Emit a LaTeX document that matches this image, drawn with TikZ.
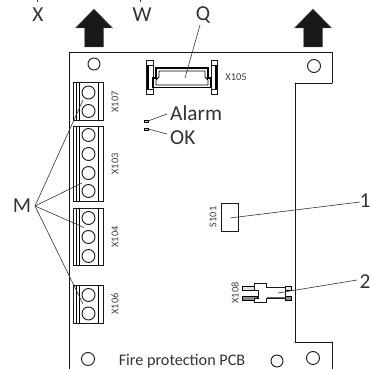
\documentclass[tikz,border=0pt]{standalone}
\usepackage{fontspec, tkz-euclide}
\setmainfont{Carlito}
\tikzset{>=stealth}
\tikzset{
  big/.style={font=\fontsize{21.3}{21.3}\selectfont,text=black!80,inner sep=0pt},
  tiny/.style={font=\fontsize{10.4}{10.4}\selectfont,text=black!75,inner sep=0pt},
  lead/.style={line width=0.6pt,black!80},
  pcb/.style={line width=0.95pt,black!90},
  upblock/.style={fill=black!90,draw=black!60,line width=0.4pt}
}

\begin{document}
\begin{tikzpicture}[x=1pt,y=-1pt]
\useasboundingbox (0,0) rectangle (370,369);
\tkzDefPoints{69.5/369/A, 69.5/52.5/B, 332/52.5/C, 332/83/D, 295/83/E, 295/342/F, 332/342/G, 332/369/H}
\tkzDrawSegments[pcb](A,B B,C C,D D,E E,F F,G G,H)
% arrows on top
\foreach \ax in {94,313}
  \draw[upblock,shift={(\ax,0)}] (0,9) -- (18.5,28) -- (9.5,28) -- (9.5,47) -- (-9.5,47) -- (-9.5,28) -- (-18.5,28) -- cycle;
% mounting holes
\foreach \hx/\hy/\hr in {94/64/6, 314/66/6.5, 88/359/6.5, 277/361/6, 313/358/6.5}
  \draw[pcb] (\hx,\hy) circle (\hr);
% terminal blocks
\foreach \tt/\tb/\tl/\tn/\holes in {82.5/120.5/102/X107/{92.5,111}, 126/201/164/X103/{135,154,173,191}, 208/265/237/X104/{218,237,256}, 285/323/304/X106/{295,313.5}}{
  \draw[pcb] (73,\tt) rectangle (103.5,\tb);
  \draw[line width=0.6pt] (76,\tt) -- (76,\tb) (79,\tt) -- (79,\tb) (98,\tt) -- (98,\tb);
  \foreach \hy in \holes
    \draw[pcb,fill=white] (88.5,\hy) circle (6.5);
  \node[tiny,rotate=90] (lab\tn) at (115,\tl) {\tn};
}
% connector X105
\draw[pcb,fill=white] (146.5,60) rectangle (153,94);
\draw[pcb,fill=white] (211,60) rectangle (217.5,94);
\draw[pcb] (146.5,65) -- (153,65) (146.5,89) -- (153,89) (211,65) -- (217.5,65) (211,89) -- (217.5,89);
\draw[line width=1.4pt] (148,65) -- (148,89) (216,65) -- (216,89);
\draw[line width=1.1pt] (153,87.5) -- (153,78) -- (156,78) -- (156,68) -- (208,68) -- (208,78) -- (211,78) -- (211,87.5) -- cycle;
\draw[line width=0.9pt] (159,71) -- (205,71) -- (205,77) -- (208,80) -- (208,85) -- (156,85) -- (156,80) -- (159,77) -- cycle;
\node[tiny] (labX105) at (236,77.5) {X105};
% leds
\draw[line width=0.5pt,fill=black!25] (144.5,120) rectangle (148,122.5);
\draw[line width=0.5pt,fill=black!25] (144.5,128) rectangle (148,130.5);
\coordinate (ledA) at (148,121);
\coordinate (ledO) at (148,129);
% switch and header
\draw[pcb] (221.5,203) rectangle (238.5,231);
\node[tiny,rotate=90] (labS101) at (213,217) {S101};
\draw[line width=0.5pt,fill=black!10] (242.7,286.7) rectangle (257,290);
\draw[line width=0.5pt,fill=black!45] (242.7,296.7) rectangle (257,300);
\draw[line width=0.5pt,fill=black!10] (285,286.7) rectangle (291.7,290);
\draw[line width=0.5pt,fill=black!45] (285,296.7) rectangle (291.7,300);
\draw[pcb,fill=white] (254.3,283.3) -- (266.7,283.3) -- (266.7,287.7) -- (285,287.7) -- (285,298) -- (266.7,298) -- (266.7,302.3) -- (254.3,302.3) -- (254.3,298) -- (258,298) -- (258,290) -- (254.3,290) -- cycle;
\draw[line width=1.2pt,black!60] (267,297.5) -- (285,297.5);
\node[tiny,rotate=90] (labX108) at (235,293) {X108};
% text labels
\node[big] (labX) at (38,15) {X};
\node[big] (labW) at (142,15) {W};
\node[big] (labQ) at (203,15) {Q};
\node[big,anchor=west] (labAlarm) at (170,113) {Alarm};
\node[big,anchor=west] (labOK) at (170,138) {OK};
\node[big] (labM) at (22,206) {M};
\node[big] (lab1) at (365,201) {1};
\node[big] (lab2) at (365,282) {2};
\node[font=\fontsize{16.2}{16.2}\selectfont,text=black!80,inner sep=0pt] (labPCB) at (182,361) {Fire protection PCB};
% leaders
\coordinate (endQ) at (185,78);
\coordinate (endS) at (230,218);
\coordinate (endH) at (278,293);
\coordinate (endA) at (83,100);
\coordinate (endB) at (82,183);
\coordinate (endC) at (84,227.5);
\coordinate (endD) at (83,304);
\coordinate (topX) at (37,0);
\coordinate (topW) at (140,0);
\coordinate (fromQ) at (200,25);
\coordinate (fromA) at (167,114);
\coordinate (fromO) at (167,134);
\coordinate (fromM) at (35,206);
\coordinate (from1) at (360,202);
\coordinate (from2) at (357,280);
\draw[lead] (fromQ) -- (endQ);
\draw[lead] (fromA) -- (ledA);
\draw[lead] (fromO) -- (ledO);
\foreach \mend in {endA,endB,endC,endD}
  \draw[lead] (fromM) -- (\mend);
\draw[lead] (from1) -- (endS);
\draw[lead] (from2) -- (endH);
\draw[lead] (topX) -- ++(0,2);
\draw[lead] (topW) -- ++(0,2);
\end{tikzpicture}
\end{document}
